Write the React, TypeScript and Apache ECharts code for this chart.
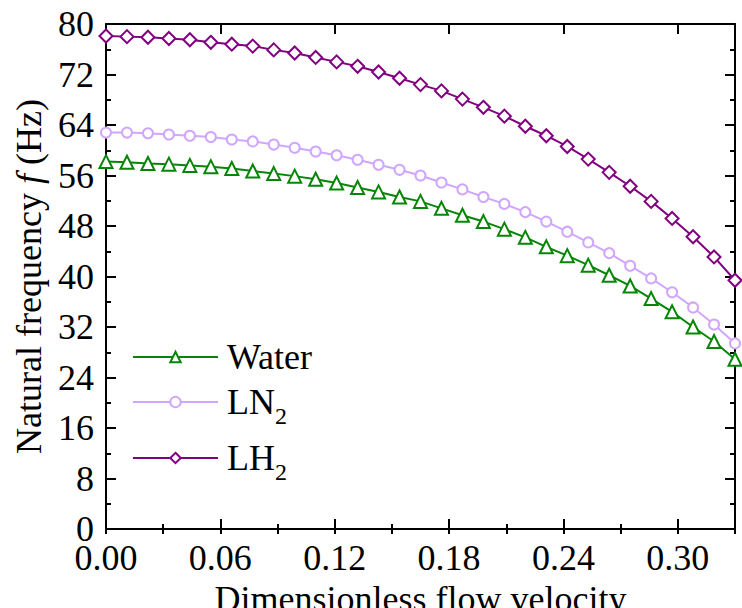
import React, { useEffect, useRef } from "react";
import * as echarts from "echarts";

// Dimensionless flow velocity (x)
const velocity = [
  0.0, 0.011, 0.022, 0.033, 0.044, 0.055, 0.066, 0.077, 0.088, 0.099, 0.11,
  0.121, 0.132, 0.143, 0.154, 0.165, 0.176, 0.187, 0.198, 0.209, 0.22, 0.231,
  0.242, 0.253, 0.264, 0.275, 0.286, 0.297, 0.308, 0.319, 0.33,
];

// Natural frequency (Hz)
const water = [
  58.2, 58.1, 57.9, 57.8, 57.6, 57.4, 57.1, 56.7, 56.3, 55.9, 55.4, 54.8, 54.1,
  53.4, 52.6, 51.9, 50.8, 49.7, 48.7, 47.5, 46.2, 44.7, 43.3, 41.8, 40.2, 38.5,
  36.5, 34.4, 32.0, 29.7, 26.9,
];
const ln2 = [
  62.8, 62.8, 62.7, 62.5, 62.3, 62.1, 61.7, 61.4, 60.9, 60.4, 59.8, 59.2, 58.5,
  57.7, 56.9, 56.0, 54.9, 53.8, 52.6, 51.5, 50.2, 48.7, 47.1, 45.4, 43.7, 41.7,
  39.7, 37.5, 35.1, 32.4, 29.4,
];
const lh2 = [
  78.1, 78.0, 77.9, 77.7, 77.5, 77.1, 76.8, 76.5, 75.9, 75.4, 74.7, 74.0, 73.3,
  72.4, 71.4, 70.4, 69.4, 68.1, 66.8, 65.4, 63.8, 62.3, 60.6, 58.6, 56.5, 54.3,
  51.9, 49.2, 46.3, 43.1, 39.4,
];

const seriesNames = ["Water", "LN2", "LH2"];
const legendLabels: Record<string, string> = {
  Water: "Water",
  LN2: "LN{sub|2}",
  LH2: "LH{sub|2}",
};

const xTickStep = 0.06;
const xMinorStep = 0.03;
const yTickStep = 8;

const FONT = "Liberation Serif";
const FS = 36;

export default function App() {
  const ref = useRef<HTMLDivElement>(null);

  useEffect(() => {
    document.body.style.margin = "0";
    if (!ref.current) return;
    const chart = echarts.init(ref.current, undefined, { renderer: "svg" });

    const pairs = (ys: number[]) => ys.map((y, i) => [velocity[i], y]);

    const lineW = 2;
    const black = "#000";
    const txt = () => ({ fontFamily: FONT, fontSize: FS, color: black });

    const xBase = () => ({
      type: "value",
      min: 0,
      max: 0.33,
      splitLine: { show: false },
    });

    const legendItem = (name: string, top: number) => ({
      data: [name],
      top,
      left: 132,
      orient: "vertical",
      itemWidth: 85,
      itemHeight: 13,
      padding: 0,
      selectedMode: false,
      formatter: (n: string) => legendLabels[n] || n,
      textStyle: {
        ...txt(),
        padding: [0, 0, 0, 4],
        rich: {
          sub: {
            fontFamily: FONT,
            fontSize: 24,
            color: black,
            padding: [28, 0, 0, 0],
          },
        },
      },
    });

    const option: any = {
      animation: false,
      backgroundColor: "#fff",
      textStyle: { fontFamily: FONT },
      grid: {
        left: 106,
        right: 7,
        top: 24,
        bottom: 79,
        containLabel: false,
        outerBoundsMode: "none",
      },
      legend: [
        legendItem(seriesNames[0], 339),
        legendItem(seriesNames[1], 384),
        legendItem(seriesNames[2], 440),
      ],
      xAxis: [
        {
          ...xBase(),
          position: "bottom",
          interval: xTickStep,
          axisLine: { show: true, onZero: false, lineStyle: { color: black, width: lineW } },
          axisTick: { show: true, inside: true, length: 10, lineStyle: { color: black, width: lineW } },
          axisLabel: {
            ...txt(),
            margin: 11,
            showMaxLabel: false,
            formatter: (v: number) => v.toFixed(2),
          },
          name: "Dimensionless flow velocity",
          nameLocation: "middle",
          nameGap: 35,
          nameTextStyle: txt(),
        },
        {
          ...xBase(),
          position: "bottom",
          interval: xMinorStep,
          axisLine: { show: false },
          axisTick: { show: true, inside: true, length: 5, lineStyle: { color: black, width: lineW } },
          axisLabel: { show: false },
        },
        {
          ...xBase(),
          position: "top",
          interval: xTickStep,
          axisLine: { show: true, onZero: false, lineStyle: { color: black, width: lineW } },
          axisTick: { show: true, inside: true, length: 10, lineStyle: { color: black, width: lineW } },
          axisLabel: { show: false },
        },
        {
          ...xBase(),
          position: "top",
          interval: xMinorStep,
          axisLine: { show: false },
          axisTick: { show: true, inside: true, length: 5, lineStyle: { color: black, width: lineW } },
          axisLabel: { show: false },
        },
      ],
      yAxis: [
        {
          type: "value",
          position: "left",
          min: 0,
          max: 80,
          interval: yTickStep,
          splitLine: { show: false },
          axisLine: { show: true, onZero: false, lineStyle: { color: black, width: lineW } },
          axisTick: { show: true, inside: true, length: 10, lineStyle: { color: black, width: lineW } },
          minorTick: { show: true, splitNumber: 2, length: 5, lineStyle: { color: black, width: lineW } },
          axisLabel: { ...txt(), margin: 12 },
          name: "Natural frequency {i|f} (Hz)",
          nameLocation: "middle",
          nameGap: 48,
          nameTextStyle: {
            ...txt(),
            rich: {
              i: { ...txt(), fontStyle: "italic" },
            },
          },
        },
        {
          type: "value",
          position: "right",
          min: 0,
          max: 80,
          interval: yTickStep,
          splitLine: { show: false },
          axisLine: { show: true, onZero: false, lineStyle: { color: black, width: lineW } },
          axisTick: { show: true, inside: true, length: 10, lineStyle: { color: black, width: lineW } },
          minorTick: { show: true, splitNumber: 2, length: 5, lineStyle: { color: black, width: lineW } },
          axisLabel: { show: false },
        },
      ],
      series: [
        {
          name: seriesNames[0],
          type: "line",
          data: pairs(water),
          symbol: "emptyTriangle",
          symbolSize: 13,
          color: "#078507",
          lineStyle: { width: 2, color: "#078507" },
          itemStyle: { borderWidth: 2, color: "#078507" },
          z: 3,
        },
        {
          name: seriesNames[1],
          type: "line",
          data: pairs(ln2),
          symbol: "emptyCircle",
          symbolSize: 10,
          color: "#d0a6ff",
          lineStyle: { width: 2, color: "#d0a6ff" },
          itemStyle: { borderWidth: 2, color: "#d0a6ff" },
          z: 2,
        },
        {
          name: seriesNames[2],
          type: "line",
          data: pairs(lh2),
          symbol: "emptyDiamond",
          symbolSize: 13,
          color: "#800080",
          lineStyle: { width: 2, color: "#800080" },
          itemStyle: { borderWidth: 2, color: "#800080" },
          z: 4,
        },
      ],
    };

    chart.setOption(option);
    return () => chart.dispose();
  }, []);

  return <div ref={ref} style={{ width: 742, height: 608 }} />;
}
